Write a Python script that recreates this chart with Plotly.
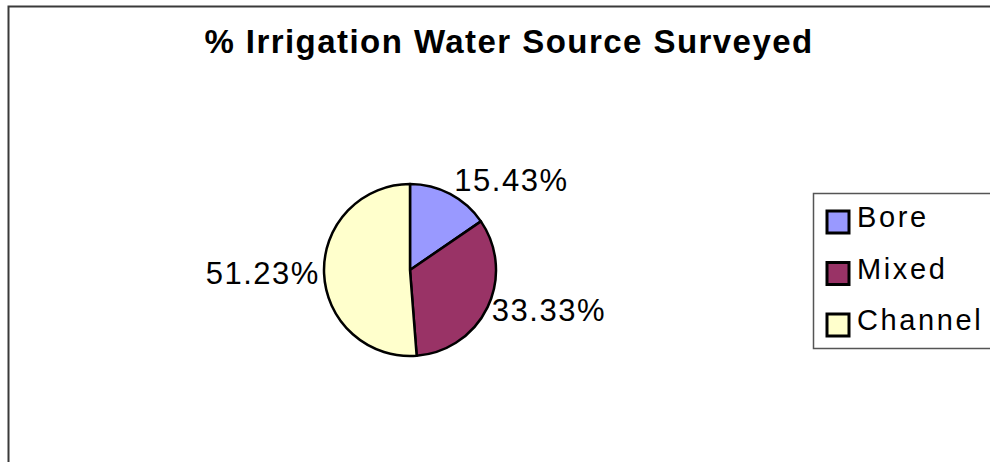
import plotly.graph_objects as go

# Irrigation water source survey results (percent of respondents)
sources = ["Bore", "Mixed", "Channel"]
shares = [15.43, 33.33, 51.23]
colors = ["#9999FF", "#993366", "#FFFFCC"]

W, H = 990, 462
FONT = "Liberation Sans, Arial, sans-serif"


def px_x(x):
    return x / W


def px_y(y):
    return 1 - y / H


# pie geometry (pixels)
cx, cy, r = 410, 270, 86

fig = go.Figure(
    go.Pie(
        labels=sources,
        values=shares,
        sort=False,
        direction="clockwise",
        rotation=0,
        marker=dict(colors=colors, line=dict(color="black", width=2.5)),
        texttemplate="%{value:.2f}%",
        textposition="outside",
        textfont=dict(family=FONT, size=31, color="black"),
        showlegend=False,
        hoverinfo="label+value",
        domain=dict(
            x=[px_x(cx - r), px_x(cx + r)],
            y=[px_y(cy + r), px_y(cy - r)],
        ),
    )
)

shapes = [
    # chart frame
    dict(type="rect", xref="paper", yref="paper",
         x0=px_x(8.5), x1=px_x(1010), y0=px_y(6.5), y1=px_y(480),
         line=dict(color="#3a3a3a", width=2), fillcolor="rgba(0,0,0,0)"),
    # legend box
    dict(type="rect", xref="paper", yref="paper",
         x0=px_x(813.5), x1=px_x(1010), y0=px_y(193.5), y1=px_y(348.5),
         line=dict(color="#555555", width=1.5), fillcolor="white"),
]
annotations = []

row0, step = 222, 51.5
for i, (name, col) in enumerate(zip(sources, colors)):
    yc = row0 + i * step
    shapes.append(dict(
        type="rect", xref="paper", yref="paper",
        x0=px_x(827), x1=px_x(849), y0=px_y(yc + 11), y1=px_y(yc - 11),
        line=dict(color="black", width=3), fillcolor=col,
    ))
    annotations.append(dict(
        text=name, xref="paper", yref="paper",
        x=px_x(855), y=px_y(yc - 5), xanchor="left", yanchor="middle",
        align="left",
        showarrow=False, font=dict(family=FONT, size=29, color="black"),
    ))

fig.update_layout(
    width=W, height=H,
    margin=dict(l=0, r=0, t=0, b=0),
    paper_bgcolor="white",
    plot_bgcolor="white",
    title=dict(
        text="<b>% Irrigation Water Source Surveyed</b>",
        x=px_x(509), xanchor="center",
        y=px_y(41), yanchor="middle", yref="container",
        font=dict(family=FONT, size=33, color="black"),
    ),
    shapes=shapes,
    annotations=annotations,
)

# widen the character spacing of the title, slice labels and legend text
spacing_js = """
var gd = document.getElementById('{plot_id}');
function spaceText() {
  gd.querySelectorAll('.gtitle').forEach(function (e) { e.style.letterSpacing = '1.45px'; });
  gd.querySelectorAll('.slicetext text, text.slicetext').forEach(function (e) { e.style.letterSpacing = '1.5px'; });
  gd.querySelectorAll('.annotation-text').forEach(function (e) { e.style.letterSpacing = '2.6px'; });
}
spaceText();
if (gd.on) { gd.on('plotly_afterplot', spaceText); }
setTimeout(spaceText, 30);
"""

fig.write_html("out.html", post_script=spacing_js)
